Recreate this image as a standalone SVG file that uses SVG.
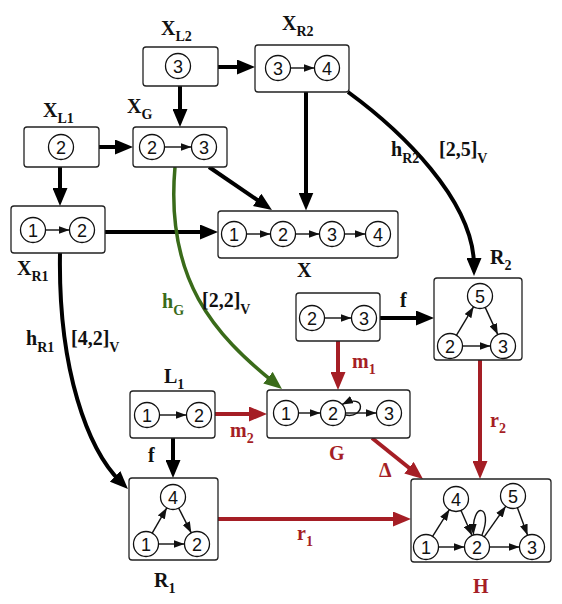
<svg xmlns="http://www.w3.org/2000/svg" width="562" height="604" viewBox="0 0 562 604">
<style>
.box{fill:#fff;stroke:#222;stroke-width:1.3}
.c{fill:#fff;stroke:#111;stroke-width:1.3}
.n{font-family:"Liberation Sans",Arial,sans-serif;font-size:18px;text-anchor:middle;fill:#111}
.e{fill:none;stroke:#111;stroke-width:1.4}
.lb{font-family:"Liberation Serif","Times New Roman",serif;font-weight:bold;font-size:20px;fill:#111}
.sub{font-size:14px}
.red{fill:#a51e25}
.grn{fill:#3a6b1a}
.bk{fill:none;stroke:#000;stroke-width:4}
.rd{fill:none;stroke:#a51e25;stroke-width:4}
.gr{fill:none;stroke:#3a6b1a;stroke-width:3.5}
</style>
<defs>
<marker id="ab" markerUnits="userSpaceOnUse" markerWidth="18" markerHeight="15" refX="8" refY="7.5" orient="auto"><path d="M0,0 L18,7.5 L0,15 z" fill="#000"/></marker>
<marker id="ar" markerUnits="userSpaceOnUse" markerWidth="18" markerHeight="15" refX="8" refY="7.5" orient="auto"><path d="M0,0 L18,7.5 L0,15 z" fill="#a51e25"/></marker>
<marker id="ag" markerUnits="userSpaceOnUse" markerWidth="18" markerHeight="15" refX="8" refY="7.5" orient="auto"><path d="M0,0 L18,7.5 L0,15 z" fill="#3a6b1a"/></marker>
<marker id="as" markerUnits="userSpaceOnUse" markerWidth="11" markerHeight="8" refX="11" refY="4" orient="auto"><path d="M0,0 L11,4 L0,8 z" fill="#111"/></marker>
</defs>

<g id="connectors">
<path class="bk" d="M218,67 L245,67" marker-end="url(#ab)"/>
<path class="bk" d="M180,86 L180,117" marker-end="url(#ab)"/>
<path class="bk" d="M99,147 L123,147" marker-end="url(#ab)"/>
<path class="bk" d="M60,167 L60,196" marker-end="url(#ab)"/>
<path class="bk" d="M209,167 L263.7,204.4" marker-end="url(#ab)"/>
<path class="bk" d="M306,92 L306,200.5" marker-end="url(#ab)"/>
<path class="bk" d="M105,232 L208,232" marker-end="url(#ab)"/>
<path class="bk" d="M380,318 L424,318" marker-end="url(#ab)"/>
<path class="bk" d="M173,438 L173,468" marker-end="url(#ab)"/>
<path class="bk" d="M60,253 C58,370 88,450 120.8,482" marker-end="url(#ab)"/>
<path class="bk" d="M348,92 C400,130 474,200 474,266" marker-end="url(#ab)"/>
<path class="gr" d="M175,167 C165,280 215,335 274.2,382.7" marker-end="url(#ag)"/>
<path class="rd" d="M338,341 L338,380" marker-end="url(#ar)"/>
<path class="rd" d="M215,414 L257,414" marker-end="url(#ar)"/>
<path class="rd" d="M372,438 L415.2,472.7" marker-end="url(#ar)"/>
<path class="rd" d="M480,360 L480,469" marker-end="url(#ar)"/>
<path class="rd" d="M218,519 L401,519" marker-end="url(#ar)"/>
<text class="lb" x="391" y="156">h<tspan class="sub" dy="7">R2</tspan></text>
<text class="lb" x="439" y="156">[2,5]<tspan class="sub" dy="7">V</tspan></text>
<text class="lb grn" x="162" y="308">h<tspan class="sub" dy="7">G</tspan></text>
<text class="lb" x="202" y="307">[2,2]<tspan class="sub" dy="7">V</tspan></text>
<text class="lb" x="26" y="345">h<tspan class="sub" dy="7">R1</tspan></text>
<text class="lb" x="71" y="345">[4,2]<tspan class="sub" dy="7">V</tspan></text>
<text class="lb" x="400" y="307">f</text>
<text class="lb" x="148" y="462">f</text>
<text class="lb red" x="352" y="368">m<tspan class="sub" dy="6">1</tspan></text>
<text class="lb red" x="230" y="437">m<tspan class="sub" dy="6">2</tspan></text>
<text class="lb red" x="379" y="477">Δ</text>
<text class="lb red" x="490" y="427">r<tspan class="sub" dy="6">2</tspan></text>
<text class="lb red" x="297" y="540">r<tspan class="sub" dy="6">1</tspan></text>
</g>

<g id="XL2">
<rect class="box" x="143" y="47" width="75" height="39" rx="3"/>
<circle class="c" cx="178" cy="66" r="12.5"/><text class="n" x="178" y="72.5">3</text>
<text class="lb" x="161" y="35">X<tspan class="sub" dy="6">L2</tspan></text>
</g>

<g id="XR2">
<rect class="box" x="255" y="45" width="94" height="47" rx="3"/>
<circle class="c" cx="278" cy="68" r="12.5"/><text class="n" x="278" y="74.5">3</text>
<circle class="c" cx="327" cy="68" r="12.5"/><text class="n" x="327" y="74.5">4</text>
<path class="e" d="M290.5,68 L314.5,68" marker-end="url(#as)"/>
<text class="lb" x="282" y="30">X<tspan class="sub" dy="6">R2</tspan></text>
</g>

<g id="XL1">
<rect class="box" x="24" y="127" width="75" height="40" rx="3"/>
<circle class="c" cx="61" cy="147" r="12.5"/><text class="n" x="61" y="153.5">2</text>
<text class="lb" x="43" y="117">X<tspan class="sub" dy="6">L1</tspan></text>
</g>

<g id="XG">
<rect class="box" x="133" y="127" width="94" height="40" rx="3"/>
<circle class="c" cx="152" cy="147" r="12.5"/><text class="n" x="152" y="153.5">2</text>
<circle class="c" cx="204" cy="147" r="12.5"/><text class="n" x="204" y="153.5">3</text>
<path class="e" d="M164.5,147 L191.5,147" marker-end="url(#as)"/>
<text class="lb" x="127" y="113">X<tspan class="sub" dy="6">G</tspan></text>
</g>

<g id="XR1">
<rect class="box" x="11" y="206" width="94" height="47" rx="3"/>
<circle class="c" cx="33" cy="230" r="12.5"/><text class="n" x="33" y="236.5">1</text>
<circle class="c" cx="82" cy="230" r="12.5"/><text class="n" x="82" y="236.5">2</text>
<path class="e" d="M45.5,230 L69.5,230" marker-end="url(#as)"/>
<text class="lb" x="17" y="275">X<tspan class="sub" dy="6">R1</tspan></text>
</g>

<g id="X">
<rect class="box" x="218" y="211" width="180" height="47" rx="3"/>
<circle class="c" cx="234" cy="234" r="12.5"/><text class="n" x="234" y="240.5">1</text>
<circle class="c" cx="283" cy="234" r="12.5"/><text class="n" x="283" y="240.5">2</text>
<circle class="c" cx="332" cy="234" r="12.5"/><text class="n" x="332" y="240.5">3</text>
<circle class="c" cx="378" cy="234" r="12.5"/><text class="n" x="378" y="240.5">4</text>
<path class="e" d="M246.5,234 L270.5,234" marker-end="url(#as)"/>
<path class="e" d="M295.5,234 L319.5,234" marker-end="url(#as)"/>
<path class="e" d="M344.5,234 L365.5,234" marker-end="url(#as)"/>
<text class="lb" x="297" y="277">X</text>
</g>

<g id="L2">
<rect class="box" x="296" y="293" width="84" height="48" rx="3"/>
<circle class="c" cx="312" cy="318" r="12.5"/><text class="n" x="312" y="324.5">2</text>
<circle class="c" cx="364" cy="318" r="12.5"/><text class="n" x="364" y="324.5">3</text>
<path class="e" d="M324.5,318 L351.5,318" marker-end="url(#as)"/>
</g>

<g id="R2">
<rect class="box" x="434" y="278" width="88" height="82" rx="3"/>
<circle class="c" cx="480" cy="296" r="12.5"/><text class="n" x="480" y="302.5">5</text>
<circle class="c" cx="450" cy="346" r="12.5"/><text class="n" x="450" y="352.5">2</text>
<circle class="c" cx="503" cy="346" r="12.5"/><text class="n" x="503" y="352.5">3</text>
<path class="e" d="M456.4,335.3 L473.6,306.7" marker-end="url(#as)"/>
<path class="e" d="M485.2,307.4 L497.8,334.6" marker-end="url(#as)"/>
<path class="e" d="M462.5,346 L490.5,346" marker-end="url(#as)"/>
<text class="lb" x="490" y="264">R<tspan class="sub" dy="6">2</tspan></text>
</g>

<g id="L1">
<rect class="box" x="130" y="391" width="85" height="47" rx="3"/>
<circle class="c" cx="147" cy="415" r="12.5"/><text class="n" x="147" y="421.5">1</text>
<circle class="c" cx="199" cy="415" r="12.5"/><text class="n" x="199" y="421.5">2</text>
<path class="e" d="M159.5,415 L186.5,415" marker-end="url(#as)"/>
<text class="lb" x="164" y="383">L<tspan class="sub" dy="6">1</tspan></text>
</g>

<g id="G">
<rect class="box" x="267" y="390" width="143" height="48" rx="3"/>
<circle class="c" cx="286" cy="413" r="12.5"/><text class="n" x="286" y="419.5">1</text>
<circle class="c" cx="333" cy="413" r="12.5"/><text class="n" x="333" y="419.5">2</text>
<circle class="c" cx="389" cy="413" r="12.5"/><text class="n" x="389" y="419.5">3</text>
<path class="e" d="M298.5,413 L320.5,413" marker-end="url(#as)"/>
<path class="e" d="M345.5,413 L376.5,413" marker-end="url(#as)"/>
<path class="e" d="M345.5,415 C365,419 367,392 342,404.5" marker-end="url(#as)"/>
<text class="lb red" x="329" y="460">G</text>
</g>

<g id="R1">
<rect class="box" x="129" y="478" width="89" height="82" rx="3"/>
<circle class="c" cx="173" cy="497" r="12.5"/><text class="n" x="173" y="503.5">4</text>
<circle class="c" cx="146" cy="544" r="12.5"/><text class="n" x="146" y="550.5">1</text>
<circle class="c" cx="197" cy="544" r="12.5"/><text class="n" x="197" y="550.5">2</text>
<path class="e" d="M152.2,533.2 L166.8,507.8" marker-end="url(#as)"/>
<path class="e" d="M178.7,508.1 L191.3,532.9" marker-end="url(#as)"/>
<path class="e" d="M158.5,544 L184.5,544" marker-end="url(#as)"/>
<text class="lb" x="154" y="587">R<tspan class="sub" dy="6">1</tspan></text>
</g>

<g id="H">
<rect class="box" x="411" y="479" width="140" height="83" rx="3"/>
<circle class="c" cx="456" cy="499" r="12.5"/><text class="n" x="456" y="505.5">4</text>
<circle class="c" cx="513" cy="496" r="12.5"/><text class="n" x="513" y="502.5">5</text>
<circle class="c" cx="426" cy="547" r="12.5"/><text class="n" x="426" y="553.5">1</text>
<circle class="c" cx="477" cy="547" r="12.5"/><text class="n" x="477" y="553.5">2</text>
<circle class="c" cx="532" cy="547" r="12.5"/><text class="n" x="532" y="553.5">3</text>
<path class="e" d="M432.6,536.4 L449.4,509.6" marker-end="url(#as)"/>
<path class="e" d="M461,510.5 L472,535.5" marker-end="url(#as)"/>
<path class="e" d="M438.5,547 L464.5,547" marker-end="url(#as)"/>
<path class="e" d="M484.2,536.8 L505.8,506.2" marker-end="url(#as)"/>
<path class="e" d="M517.4,507.7 L527.6,535.3" marker-end="url(#as)"/>
<path class="e" d="M489.5,547 L519.5,547" marker-end="url(#as)"/>
<path class="e" d="M482,535 C494,505 471,500 473.5,534.8" marker-end="url(#as)"/>
<text class="lb red" x="473" y="593">H</text>
</g>
</svg>
